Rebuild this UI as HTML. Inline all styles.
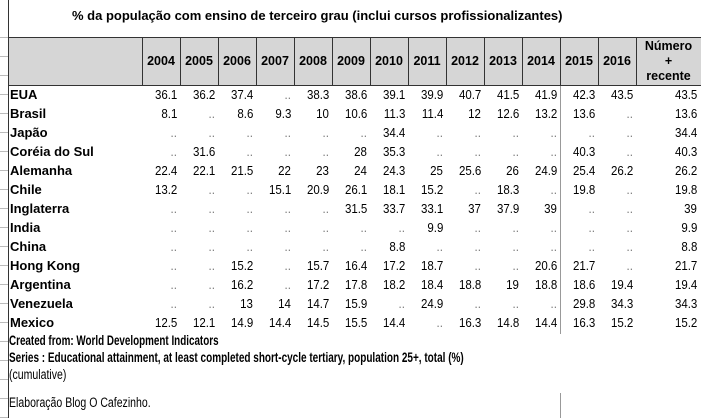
<!DOCTYPE html>
<html><head><meta charset="utf-8">
<style>
body{margin:0;width:701px;height:418px;background:#fff;overflow:hidden;position:relative;font-family:"Liberation Sans",Arial,sans-serif;color:#000}
.a{position:absolute;white-space:nowrap}
.t{font-weight:bold;font-size:13px}
.f{font-size:13.5px;transform-origin:left center}
.n{font-size:12.5px;text-align:right;transform:scaleX(0.92);transform-origin:right center}
.h{font-weight:bold;font-size:12.5px;text-align:center}
.ln{position:absolute;background:#333}
.gl{position:absolute;background:#999}
.rl{position:absolute;background:#bbb}
</style></head><body>
<div class="a t" style="left:72px;top:8px">% da população com ensino de terceiro grau (inclui cursos profissionalizantes)</div>
<div id="tbl"></div>
<div class="a f" style="left:9px;top:333px;font-weight:bold;transform:scaleX(0.73)">Created from: World Development Indicators</div>
<div class="a f" style="left:9px;top:350px;font-weight:bold;transform:scaleX(0.74)">Series : Educational attainment, at least completed short-cycle tertiary, population 25+, total (%)</div>
<div class="a f" style="left:9px;top:367px;transform:scaleX(0.78)">(cumulative)</div>
<div class="a f" style="left:9px;top:395px;transform:scaleX(0.78)">Elaboração Blog O Cafezinho.</div>
<script>
const years=["2004","2005","2006","2007","2008","2009","2010","2011","2012","2013","2014","2015","2016"];
const countries=["EUA","Brasil","Japão","Coréia do Sul","Alemanha","Chile","Inglaterra","India","China","Hong Kong","Argentina","Venezuela","Mexico"];
const values=[
["36.1","36.2","37.4","..","38.3","38.6","39.1","39.9","40.7","41.5","41.9","42.3","43.5","43.5"],
["8.1","..","8.6","9.3","10","10.6","11.3","11.4","12","12.6","13.2","13.6","..","13.6"],
["..","..","..","..","..","..","34.4","..","..","..","..","..","..","34.4"],
["..","31.6","..","..","..","28","35.3","..","..","..","..","40.3","..","40.3"],
["22.4","22.1","21.5","22","23","24","24.3","25","25.6","26","24.9","25.4","26.2","26.2"],
["13.2","..","..","15.1","20.9","26.1","18.1","15.2","..","18.3","..","19.8","..","19.8"],
["..","..","..","..","..","31.5","33.7","33.1","37","37.9","39","..","..","39"],
["..","..","..","..","..","..","..","9.9","..","..","..","..","..","9.9"],
["..","..","..","..","..","..","8.8","..","..","..","..","..","..","8.8"],
["..","..","15.2","..","15.7","16.4","17.2","18.7","..","..","20.6","21.7","..","21.7"],
["..","..","16.2","..","17.2","17.8","18.2","18.4","18.8","19","18.8","18.6","19.4","19.4"],
["..","..","13","14","14.7","15.9","..","24.9","..","..","..","29.8","34.3","34.3"],
["12.5","12.1","14.9","14.4","14.5","15.5","14.4","..","16.3","14.8","14.4","16.3","15.2","15.2"]];
const T=document.getElementById('tbl');
function add(html,cls,st,name){const d=document.createElement('div');d.className=cls;d.style.cssText=st;d.innerHTML=html;


T.appendChild(d);return d;}
const colX=[142,180,218,256,294,332,370,408,446,484,522,560,598,636,701];
add('','a','left:8px;top:37px;width:693px;height:48px;background:#d6d6d6','header-background');
add('','ln','left:8px;top:37px;width:693px;height:1px','header-top-border');
add('','ln','left:8px;top:85px;width:693px;height:1px','header-bottom-border');
add('','ln','left:8px;top:0;width:1px;height:418px','left-border');
for(let i=0;i<colX.length-1;i++)add('','ln',`left:${colX[i]}px;top:37px;width:1px;height:48px`,'header-col-border');
add('','gl','left:560px;top:86px;width:1px;height:248px','divider-2014-2015');
add('','gl','left:560px;top:393px;width:1px;height:25px','divider-bottom');
for(let y=37;y<418;y+=19)add('','rl',`left:0;top:${y}px;width:8px;height:1px`,'row-header-tick');
years.forEach((y,i)=>add(y,'a h',`left:${colX[i]}px;width:${colX[i+1]-colX[i]}px;top:54px`,'year-header'));
add('Número<br>+<br>recente','a h',`left:636px;width:65px;top:39px;line-height:15px;white-space:normal`,'latest-header');
countries.forEach((c,r)=>{const top=87+r*19;
add(c,'a t',`left:10px;top:${top}px`,'country-label');
values[r].forEach((v,i)=>{const right=i===13?4:(701-colX[i+1]+3);
add(v,'a n',`right:${right}px;top:${top+1}px${v===".."?';color:#777':''}`,'cell-value');});});
</script>
</body></html>
